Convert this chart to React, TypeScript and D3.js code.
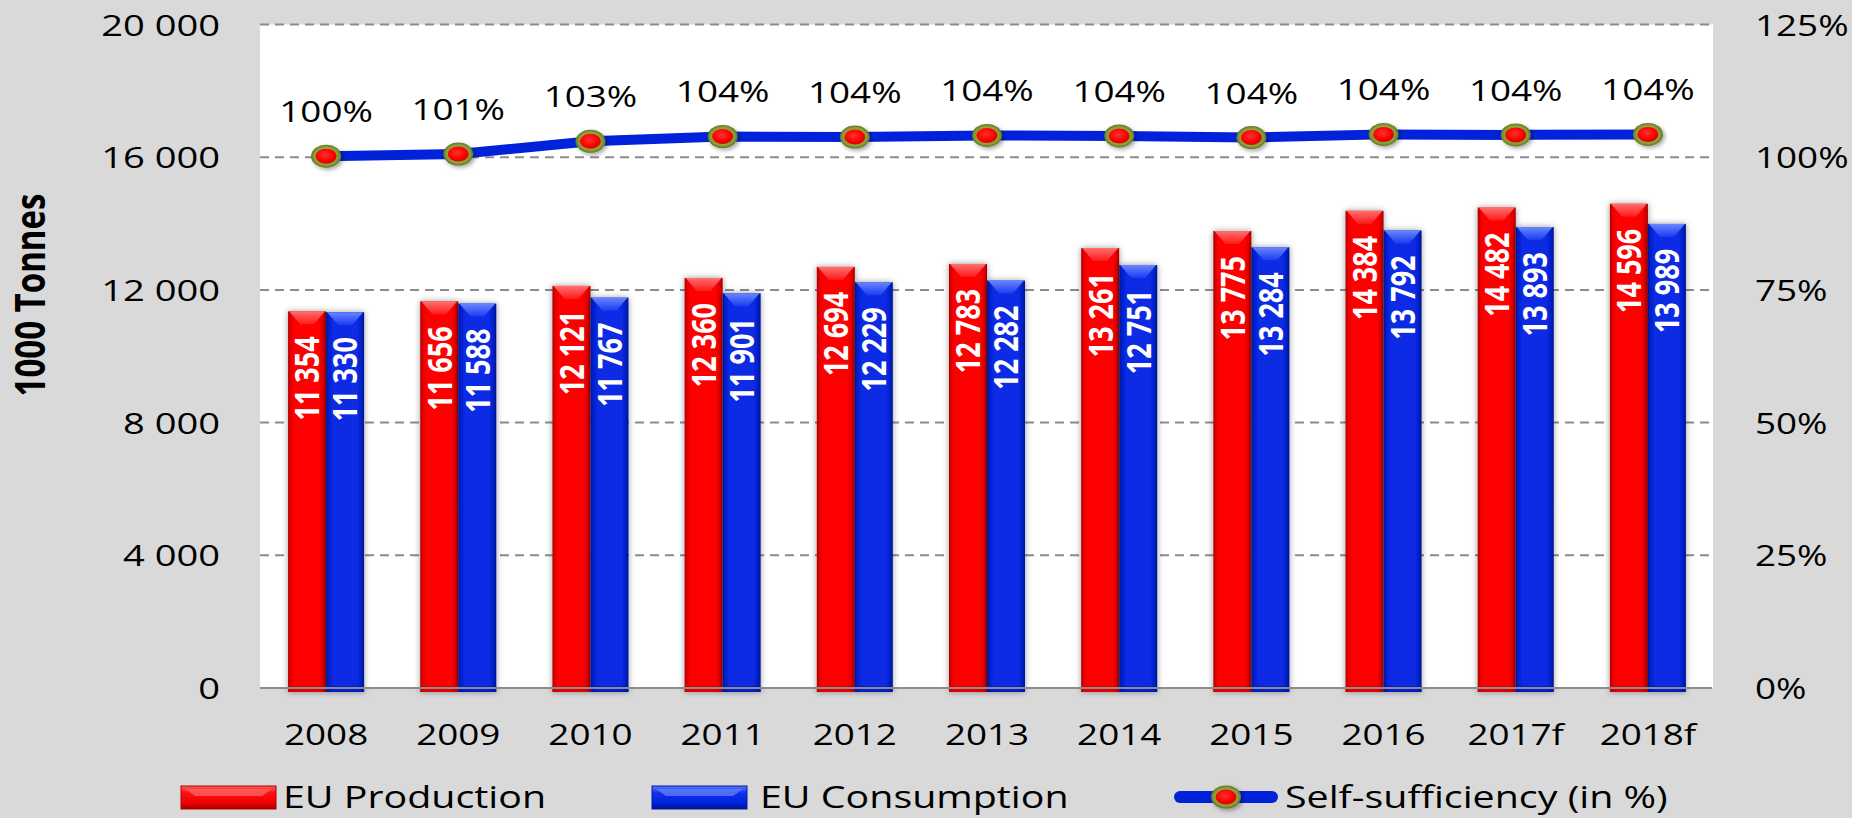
import React from "react";
import * as d3 from "d3";

const categories = ["2008", "2009", "2010", "2011", "2012", "2013", "2014", "2015", "2016", "2017f", "2018f"];
const production = [11354, 11656, 12121, 12360, 12694, 12783, 13261, 13775, 14384, 14482, 14596];
const consumption = [11330, 11588, 11767, 11901, 12229, 12282, 12751, 13284, 13792, 13893, 13989];
const selfSufficiency = [100.2, 100.6, 103.0, 103.9, 103.8, 104.1, 104.0, 103.7, 104.3, 104.2, 104.3];
const leftTicks = [0, 4000, 8000, 12000, 16000, 20000];
const rightTicks = [0, 25, 50, 75, 100, 125];
const seriesNames = ["EU Production", "EU Consumption", "Self-sufficiency (in %)"];

const W = 1852;
const H = 818;
const PL = 260;
const PR = 1714;
const PT = 24.5;
const PB = 688;
const SX = 1.27;
const FONT = "'Open Sans', 'Noto Sans', sans-serif";

const locale = d3.formatLocale({ decimal: ".", thousands: " ", grouping: [3], currency: ["", ""] });
const fmt = locale.format(",d");

function T(props: any) {
  const { x, y, anchor = "start", size = 29, weight = 400, rotate = false, fill = "#000", dy, children } = props;
  return (
    <text
      transform={`translate(${x},${y}) scale(${SX},1)${rotate ? " rotate(-90)" : ""}`}
      textAnchor={anchor}
      fontSize={size}
      fontWeight={weight}
      fill={fill}
      fontFamily={FONT}
      dy={dy}
    >
      {children}
    </text>
  );
}

function Marker({ cx, cy }: { cx: number; cy: number }) {
  return (
    <g filter="url(#mshadow)">
      <ellipse cx={cx} cy={cy} rx={15} ry={11.5} fill="url(#olive)" />
      <ellipse cx={cx} cy={cy} rx={10.5} ry={7.5} fill="url(#redball)" />
    </g>
  );
}

export default function App() {
  const x0 = d3.scaleBand<string>().domain(categories).range([PL, PR]).paddingInner(0.425).paddingOuter(0.2125);
  const x1 = d3.scaleBand<string>().domain(["p", "c"]).range([0, x0.bandwidth()]).padding(0);
  const y = d3.scaleLinear().domain([0, 20000]).range([PB, PT]);
  const y2 = d3.scaleLinear().domain([0, 125]).range([PB, PT]);
  const cx = (c: string) => (x0(c) as number) + x0.bandwidth() / 2;

  const line = d3
    .line<number>()
    .x((_, i) => cx(categories[i]))
    .y((d) => y2(d));

  const bw = x1.bandwidth();

  const bar = (c: string, key: "p" | "c", v: number, i: number) => {
    const bx = (x0(c) as number) + (x1(key) as number);
    const top = y(v);
    const bot = PB + 4;
    const isP = key === "p";
    const mid = bx + bw / 2;
    return (
      <g key={key + i}>
        <rect x={bx} y={top} width={bw} height={bot - top} fill={isP ? "url(#redH)" : "url(#blueH)"} filter="url(#bshadow)" />
        <polygon
          points={`${bx + 1},${top} ${bx + bw - 1},${top} ${mid + bw * 0.18},${top + 13} ${mid - bw * 0.18},${top + 13}`}
          fill={isP ? "url(#redTop)" : "url(#blueTop)"}
        />
        <rect x={bx} y={PB - 2} width={bw} height={6} fill={isP ? "#d00000" : "#0018b0"} opacity={0.6} />
      </g>
    );
  };

  const pct = (v: number) => `${Math.round(v)}%`;

  return (
    <svg width={W} height={H} style={{ position: "absolute", left: 0, top: 0 }} xmlns="http://www.w3.org/2000/svg">
      <defs>
        <linearGradient id="redH" x1="0" x2="1" y1="0" y2="0">
          <stop offset="0%" stopColor="#a80000" />
          <stop offset="7%" stopColor="#e80000" />
          <stop offset="18%" stopColor="#ff0000" />
          <stop offset="82%" stopColor="#ff0000" />
          <stop offset="93%" stopColor="#e00000" />
          <stop offset="100%" stopColor="#a00000" />
        </linearGradient>
        <linearGradient id="blueH" x1="0" x2="1" y1="0" y2="0">
          <stop offset="0%" stopColor="#001590" />
          <stop offset="7%" stopColor="#0020cc" />
          <stop offset="18%" stopColor="#0a2ae4" />
          <stop offset="82%" stopColor="#0a2ae4" />
          <stop offset="93%" stopColor="#0020c4" />
          <stop offset="100%" stopColor="#001488" />
        </linearGradient>
        <linearGradient id="redTop" x1="0" x2="0" y1="0" y2="1">
          <stop offset="0%" stopColor="#ff7070" />
          <stop offset="100%" stopColor="#ff1a1a" />
        </linearGradient>
        <linearGradient id="blueTop" x1="0" x2="0" y1="0" y2="1">
          <stop offset="0%" stopColor="#6a86ff" />
          <stop offset="100%" stopColor="#1a3cf0" />
        </linearGradient>
        <linearGradient id="redLeg" x1="0" x2="0" y1="0" y2="1">
          <stop offset="0%" stopColor="#ff5a5a" />
          <stop offset="30%" stopColor="#ff1010" />
          <stop offset="75%" stopColor="#ee0000" />
          <stop offset="100%" stopColor="#a00000" />
        </linearGradient>
        <linearGradient id="blueLeg" x1="0" x2="0" y1="0" y2="1">
          <stop offset="0%" stopColor="#5a78ff" />
          <stop offset="30%" stopColor="#1030ee" />
          <stop offset="75%" stopColor="#0022d8" />
          <stop offset="100%" stopColor="#001590" />
        </linearGradient>
        <radialGradient id="olive" cx="50%" cy="50%" r="50%">
          <stop offset="55%" stopColor="#a4b84c" />
          <stop offset="85%" stopColor="#7f9632" />
          <stop offset="100%" stopColor="#5f7424" />
        </radialGradient>
        <radialGradient id="redball" cx="45%" cy="40%" r="60%">
          <stop offset="0%" stopColor="#ff3030" />
          <stop offset="70%" stopColor="#ff0000" />
          <stop offset="100%" stopColor="#d80000" />
        </radialGradient>
        <filter id="bshadow" x="-30%" y="-5%" width="160%" height="110%">
          <feDropShadow dx="0" dy="0" stdDeviation="3" floodColor="#000" floodOpacity="0.4" />
        </filter>
        <filter id="mshadow" x="-50%" y="-50%" width="200%" height="200%">
          <feDropShadow dx="2" dy="2" stdDeviation="2" floodColor="#000" floodOpacity="0.35" />
        </filter>
      </defs>

      <rect x={0} y={0} width={W} height={H} fill="#d9d9d9" />
      <rect x={PL} y={PT} width={PR - PL - 1} height={PB - PT} fill="#ffffff" />

      {leftTicks.slice(1).map((t) => (
        <line key={"g" + t} x1={PL} x2={PR - 2} y1={y(t)} y2={y(t)} stroke="#8c8c8c" strokeWidth={2} strokeDasharray="9 6" />
      ))}

      {categories.map((c, i) => (
        <g key={c}>
          {bar(c, "p", production[i], i)}
          {bar(c, "c", consumption[i], i)}
        </g>
      ))}

      <line x1={PL} x2={PR - 2} y1={PB} y2={PB} stroke="#8c8c8c" strokeWidth={2} />

      {categories.map((c, i) => {
        const px = (x0(c) as number) + (x1("p") as number) + bw / 2;
        const qx = (x0(c) as number) + (x1("c") as number) + bw / 2;
        return (
          <g key={"lbl" + c}>
            <T x={px} y={y(production[i]) + 25} anchor="end" rotate size={27} weight={700} fill="#fff" dy="0.36em">
              {fmt(production[i])}
            </T>
            <T x={qx} y={y(consumption[i]) + 25} anchor="end" rotate size={27} weight={700} fill="#fff" dy="0.36em">
              {fmt(consumption[i])}
            </T>
          </g>
        );
      })}

      <path d={line(selfSufficiency) || ""} fill="none" stroke="#0022d8" strokeWidth={10} strokeLinejoin="round" />
      {selfSufficiency.map((v, i) => (
        <Marker key={"m" + i} cx={cx(categories[i])} cy={y2(v)} />
      ))}
      {selfSufficiency.map((v, i) => (
        <T key={"pl" + i} x={cx(categories[i])} y={y2(v) - 34} anchor="middle" size={29}>
          {pct(v)}
        </T>
      ))}

      {leftTicks.map((t) => (
        <T key={"lt" + t} x={220} y={y(t) + 11} anchor="end" size={30}>
          {fmt(t)}
        </T>
      ))}
      {rightTicks.map((t) => (
        <T key={"rt" + t} x={1755} y={y2(t) + 11} anchor="start" size={29}>
          {t + "%"}
        </T>
      ))}
      {categories.map((c) => (
        <T key={"xl" + c} x={cx(c)} y={745} anchor="middle" size={29}>
          {c}
        </T>
      ))}

      <T x={30} y={295} anchor="middle" rotate size={33} weight={700} dy="0.36em">
        1000 Tonnes
      </T>

      <g>
        <rect x={181} y={786} width={95} height={23} fill="url(#redLeg)" stroke="#b00000" strokeWidth={1} />
        <polygon points="185,789 272,789 262,796 195,796" fill="#ff6a6a" opacity={0.7} />
        <T x={283} y={808} size={31}>
          {seriesNames[0]}
        </T>
        <rect x={652} y={786} width={95} height={23} fill="url(#blueLeg)" stroke="#001aa0" strokeWidth={1} />
        <polygon points="656,789 743,789 733,796 666,796" fill="#6a86ff" opacity={0.7} />
        <T x={760} y={808} size={31}>
          {seriesNames[1]}
        </T>
        <line x1={1180} x2={1272} y1={797} y2={797} stroke="#0022d8" strokeWidth={12} strokeLinecap="round" />
        <Marker cx={1226} cy={797} />
        <T x={1285} y={808} size={31}>
          {seriesNames[2]}
        </T>
      </g>
    </svg>
  );
}
